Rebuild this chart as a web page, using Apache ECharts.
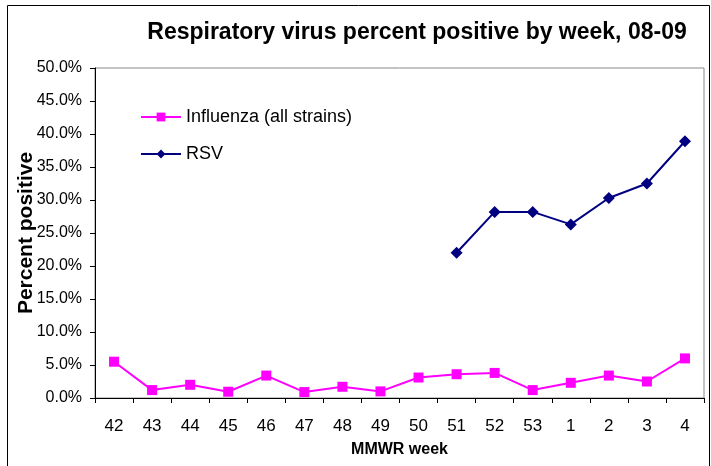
<!DOCTYPE html>
<html><head><meta charset="utf-8">
<script src="https://cdn.jsdelivr.net/npm/echarts@6/dist/echarts.min.js"></script>
<style>html,body{margin:0;padding:0;background:#fff}#c{width:711px;height:466px}</style>
</head><body><div id="c"></div>
<script>
const weeks = ['42','43','44','45','46','47','48','49','50','51','52','53','1','2','3','4'];
const influenza = [5.5, 1.2, 2.0, 0.95, 3.4, 0.9, 1.7, 1.0, 3.1, 3.6, 3.8, 1.2, 2.3, 3.4, 2.5, 6.0];
const rsv = [null, null, null, null, null, null, null, null, null, 22.0, 28.2, 28.2, 26.3, 30.3, 32.5, 38.9];
const yTicks = [0, 5, 10, 15, 20, 25, 30, 35, 40, 45, 50];

const sans = "'Liberation Sans', Arial, sans-serif";
const chart = echarts.init(document.getElementById('c'), null, {renderer: 'canvas'});
chart.setOption({
  animation: false,
  backgroundColor: '#fff',
  title: {
    text: 'Respiratory virus percent positive by week, 08-09',
    left: 412, top: 16, textAlign: 'center',
    textStyle: {fontFamily: sans, fontWeight: 'bold', fontSize: 23, color: '#000'}
  },
  graphic: [{
    type: 'rect', shape: {x: 7.5, y: 5.5, width: 702, height: 480},
    style: {fill: 'none', stroke: '#000', lineWidth: 1}, silent: true, z: 100
  }],
  legend: {
    orient: 'vertical', left: 135, top: 103, itemGap: 19,
    itemWidth: 40, itemHeight: 11,
    textStyle: {fontFamily: sans, fontSize: 18, color: '#000'},
    data: ['Influenza (all strains)', 'RSV']
  },
  grid: {left: 95, right: 7, top: 68, bottom: 68, show: true, borderColor: '#888', borderWidth: 1},
  xAxis: {
    type: 'category', data: weeks, boundaryGap: true,
    name: 'MMWR week', nameLocation: 'middle', nameGap: 44, nameMoveOverlap: false,
    nameTextStyle: {fontFamily: sans, fontWeight: 'bold', fontSize: 16, color: '#000'},
    axisLine: {lineStyle: {color: '#000', width: 1}},
    axisTick: {show: true, length: 5, lineStyle: {color: '#000'}},
    axisLabel: {fontFamily: sans, fontSize: 17, color: '#000', margin: 20},
    splitLine: {show: false}
  },
  yAxis: {
    type: 'value', min: 0, max: 50, interval: 5,
    name: 'Percent positive', nameLocation: 'middle', nameGap: 58, nameRotate: 90, nameMoveOverlap: false,
    nameTextStyle: {fontFamily: sans, fontWeight: 'bold', fontSize: 21, color: '#000'},
    axisLine: {show: true, lineStyle: {color: '#000', width: 1}},
    axisTick: {show: true, length: 5, lineStyle: {color: '#000'}},
    axisLabel: {fontFamily: sans, fontSize: 16, color: '#000', margin: 13,
      formatter: v => v.toFixed(1) + '%'},
    splitLine: {show: false}
  },
  series: [
    {
      name: 'Influenza (all strains)', type: 'line', data: influenza,
      symbol: 'rect', symbolSize: 10,
      lineStyle: {color: '#FF00FF', width: 2},
      itemStyle: {color: '#FF00FF'}
    },
    {
      name: 'RSV', type: 'line', data: rsv,
      symbol: 'diamond', symbolSize: 12, connectNulls: false,
      lineStyle: {color: '#000080', width: 2},
      itemStyle: {color: '#000080'}
    }
  ]
});
</script></body></html>
